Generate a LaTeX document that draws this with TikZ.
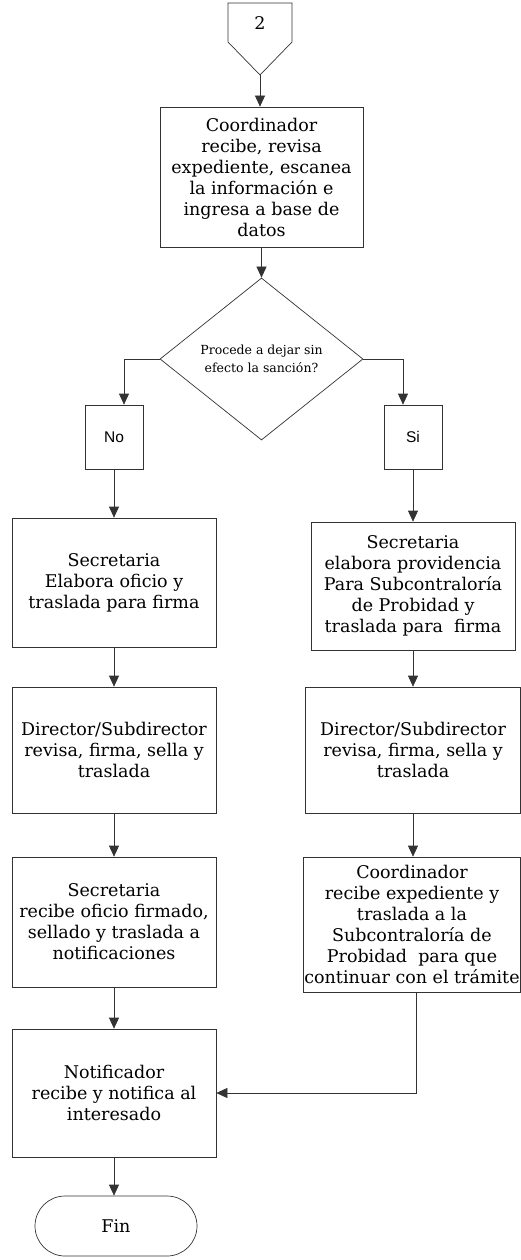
\documentclass[tikz,border=0pt]{standalone}
\usepackage{fontspec}
\setmainfont{DejaVu Serif}
\newfontfamily\arialfont{Liberation Sans}
\usepackage{tikz}
\usetikzlibrary{arrows, arrows.meta}
\usetikzlibrary{shapes.geometric, shapes.misc, positioning}
\begin{document}
\begin{tikzpicture}[x=1pt, y=-1pt]
\tikzstyle{every node}+=[inner sep=0pt]
\tikzstyle{proc}=[draw=black!80, line width=0.7pt, align=center, font=\fontsize{17.5}{21}\selectfont]
\tikzstyle{answer}=[proc, minimum width=58pt, minimum height=64pt, font=\arialfont\fontsize{15.5}{18}\selectfont]
\tikzstyle{flow}=[draw=black!80, line width=0.7pt, -{Triangle[length=11pt, width=10pt]}]
\useasboundingbox (0,0) rectangle (521,1260);
\draw [black!80, line width=0.7pt] (228,3) -- (292,3) -- (292,42) -- (260,75) -- (228,42) -- cycle;
\node [font=\fontsize{17.5}{21}\selectfont] (pg) at (260,23) {2};
\coordinate (con) at (260,75);
\node [proc, minimum width=203pt, minimum height=140pt] (coordA) at (261.5,177) {Coordinador\\recibe, revisa\\expediente, escanea\\la información e\\ingresa a base de\\datos};
\node [proc, shape=diamond, aspect=1.25, minimum width=203pt, minimum height=162pt, font=\fontsize{12.5}{18}\selectfont] (dec) at (261.5,359) {Procede a dejar sin\\efecto la sanción?};
\node [answer] (no) at (114,437) {No};
\node [answer] (si) at (413,437) {Si};
\node [proc, minimum width=204pt, minimum height=129pt] (secA) at (114,582.5) {Secretaria\\Elabora oficio y\\traslada para firma};
\node [proc, minimum width=204pt, minimum height=126pt] (dirA) at (114,750) {Director/Subdirector\\revisa, firma, sella y\\traslada};
\node [proc, minimum width=204pt, minimum height=130pt] (secB) at (114,922) {Secretaria\\recibe oficio firmado,\\sellado y traslada a\\notificaciones};
\node [proc, minimum width=204pt, minimum height=128pt] (notif) at (114,1093) {Notificador\\recibe y notifica al\\interesado};
\node [proc, shape=rounded rectangle, minimum width=162pt, minimum height=60pt] (fin) at (116,1226) {Fin};
\node [proc, minimum width=204pt, minimum height=128pt] (secC) at (413,586) {Secretaria\\elabora providencia\\Para Subcontraloría\\de Probidad y\\traslada para\ \ firma};
\node [proc, minimum width=215pt, minimum height=126pt] (dirB) at (413,750) {Director/Subdirector\\revisa, firma, sella y\\traslada};
\node [proc, minimum width=217pt, minimum height=135pt] (coordB) at (412,924.5) {Coordinador\\recibe expediente y\\traslada a la\\Subcontraloría de\\Probidad\ \ para que\\continuar con el trámite};
\draw [flow] (con) -- (con |- coordA.north);
\draw [flow] (coordA) -- (dec);
\draw [flow] (dec.west) -| ([xshift=10pt]no.north);
\draw [flow] (dec.east) -| ([xshift=-10pt]si.north);
\draw [flow] (no) -- (secA);
\draw [flow] (secA) -- (dirA);
\draw [flow] (dirA) -- (secB);
\draw [flow] (secB) -- (notif);
\draw [flow] (notif) -- (notif.south |- fin.north);
\draw [flow] (si) -- (secC);
\draw [flow] (secC) -- (dirB);
\draw [flow] (dirB.south) -- (dirB.south |- coordB.north);
\draw [flow] ([xshift=4pt]coordB.south) |- (notif.east);
\end{tikzpicture}
\end{document}
